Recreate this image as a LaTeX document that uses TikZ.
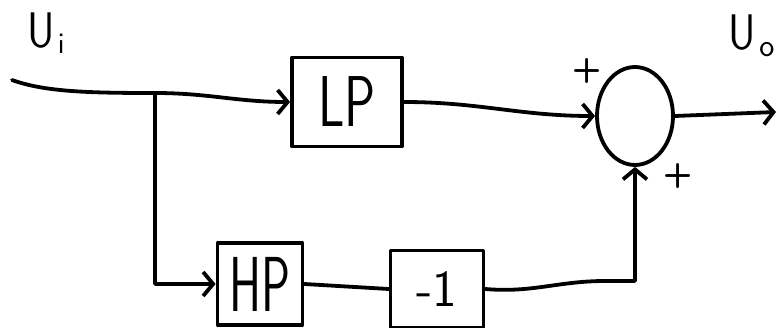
\documentclass[tikz,border=0pt]{standalone}
\usetikzlibrary{arrows.meta,shapes.geometric}
\begin{document}
\begin{tikzpicture}[x=1pt,y=-1pt,
  line width=3.8pt, line cap=round, line join=round,
  flow/.style={-{Straight Barb[length=10pt,width=24pt,line width=3.8pt]}},
  block/.style={draw, rectangle, inner sep=0pt, font=\sffamily},
  junction/.style={draw, ellipse, inner sep=0pt, minimum width=76pt, minimum height=98pt},
  sign/.style={font=\sffamily\bfseries\fontsize{34}{34}\selectfont, inner sep=0pt},
  label/.style={font=\sffamily\fontsize{50}{50}\selectfont, inner sep=0pt}]
\useasboundingbox (0,0) rectangle (783,328);

% blocks
\node[block, minimum width=110pt, minimum height=89pt] (lp) at (347,102)
  {\fontsize{72}{72}\selectfont\scalebox{0.72}[1]{LP}};
\node[block, minimum width=85pt, minimum height=82pt] (hp) at (260,284)
  {\fontsize{78}{78}\selectfont\scalebox{0.62}[1]{HP}};
\node[block, minimum width=93pt, minimum height=77pt] (neg) at (437,289)
  {\fontsize{52}{52}\selectfont -1};
\node[junction] (sum) at (635,116) {};

% signals
\node[label] (ui) at (46,33) {\scalebox{0.85}[1]{U}\raisebox{-0.3ex}{\fontsize{30}{30}\selectfont\kern3pt i}};
\node[label, anchor=west] (uo) at (727,36) {\scalebox{0.85}[1]{U}\raisebox{-0.35ex}{\fontsize{32}{32}\selectfont\kern3pt o}};
\node[sign] (p1) at (587,71) {+};
\node[sign] (p2) at (678,176) {+};

% connectors
\coordinate (in) at (12,80);
\coordinate (br) at (155,93);
\coordinate (out) at (776,112);
\draw[flow] (in) .. controls (45,92) and (90,93) .. (br) to[out=0,in=180] (lp.west);
\draw[flow] (br) |- (hp.west);
\draw[flow] (lp.east) to[out=0,in=180] (sum.west);
\draw[flow] (sum.east) -- (out);
\draw (hp.east) -- (neg.west);
\draw[flow] (neg.east) to[out=-5,in=180] (605,281) -| (sum.south);
\end{tikzpicture}
\end{document}
